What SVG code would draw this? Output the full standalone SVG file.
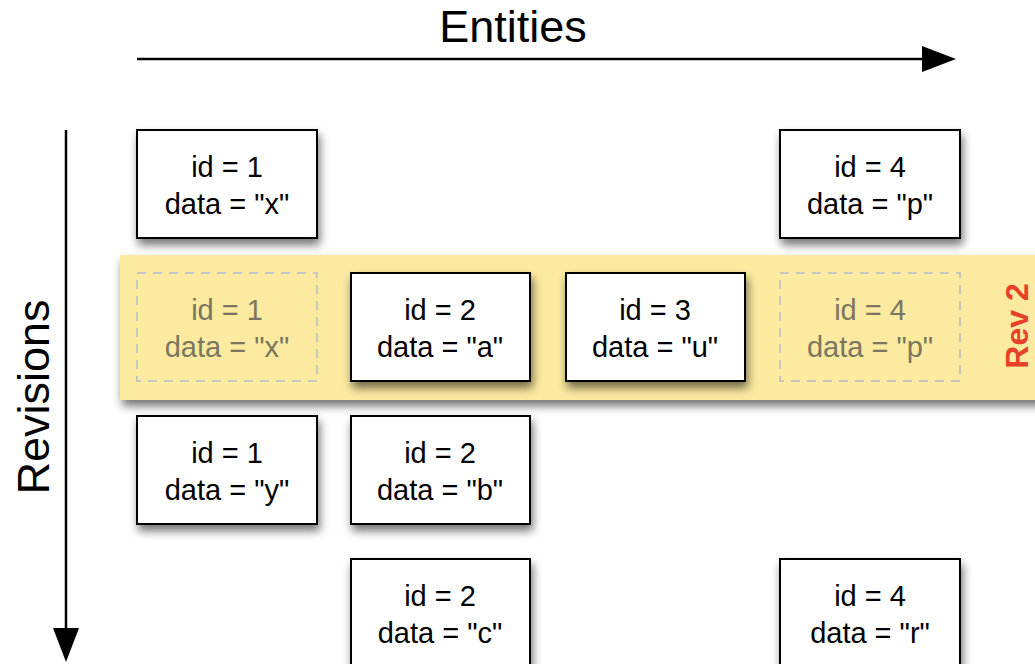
<svg xmlns="http://www.w3.org/2000/svg" width="1035" height="664" viewBox="0 0 1035 664">
<defs>
<style>
.box{fill:#fff;stroke:#000;stroke-width:2}
.ghost{fill:none;stroke:#c9c6bf;stroke-width:2;stroke-dasharray:9 7}
.t{font-family:"Liberation Sans",Arial,sans-serif;font-size:29px;text-anchor:middle;fill:#000}
.g{fill:#7b765f}
.ax{stroke:#000;stroke-width:2.5;fill:none}
.lbl{font-family:"Liberation Sans",Arial,sans-serif;font-size:45px;text-anchor:middle;fill:#000}
</style>
<filter id="sh" x="-20%" y="-20%" width="150%" height="160%">
<feGaussianBlur in="SourceAlpha" stdDeviation="5"/>
<feOffset dx="2" dy="6" result="b"/>
<feComponentTransfer><feFuncA type="linear" slope="0.55"/></feComponentTransfer>
<feMerge><feMergeNode/><feMergeNode in="SourceGraphic"/></feMerge>
</filter>
<marker id="ah" markerUnits="userSpaceOnUse" markerWidth="34" markerHeight="26" refX="2" refY="13" orient="auto">
<path d="M0,0 L34,13 L0,26 Z" fill="#000"/>
</marker>
</defs>

<g id="band">
<rect x="120" y="255" width="930" height="145" fill="#fbeaa0" filter="url(#sh)"/>
<text x="1028" y="326" transform="rotate(-90 1028 326)" font-family="Liberation Sans,Arial,sans-serif" font-size="32" font-weight="bold" fill="#e8412a" text-anchor="middle">Rev 2</text>
</g>

<g id="connectors">
<line class="ax" x1="137" y1="59" x2="924" y2="59" marker-end="url(#ah)"/>
<line class="ax" x1="66" y1="130" x2="66" y2="630" marker-end="url(#ah)"/>
</g>

<text class="lbl" x="513" y="42">Entities</text>
<text class="lbl" x="49" y="397" transform="rotate(-90 49 397)">Revisions</text>

<g id="n1x">
<rect class="box" x="137" y="130" width="180" height="108" filter="url(#sh)"/>
<text class="t" x="227" y="177">id = 1</text><text class="t" x="227" y="214">data = "x"</text>
</g>
<g id="n4p">
<rect class="box" x="780" y="130" width="180" height="108" filter="url(#sh)"/>
<text class="t" x="870" y="177">id = 4</text><text class="t" x="870" y="214">data = "p"</text>
</g>

<g id="g1x">
<rect class="ghost" x="137" y="273" width="180" height="108"/>
<text class="t g" x="227" y="320">id = 1</text><text class="t g" x="227" y="357">data = "x"</text>
</g>
<g id="n2a">
<rect class="box" x="351" y="273" width="179" height="108" filter="url(#sh)"/>
<text class="t" x="440" y="320">id = 2</text><text class="t" x="440" y="357">data = "a"</text>
</g>
<g id="n3u">
<rect class="box" x="566" y="273" width="179" height="108" filter="url(#sh)"/>
<text class="t" x="655" y="320">id = 3</text><text class="t" x="655" y="357">data = "u"</text>
</g>
<g id="g4p">
<rect class="ghost" x="780" y="273" width="180" height="108"/>
<text class="t g" x="870" y="320">id = 4</text><text class="t g" x="870" y="357">data = "p"</text>
</g>

<g id="n1y">
<rect class="box" x="137" y="416" width="180" height="108" filter="url(#sh)"/>
<text class="t" x="227" y="463">id = 1</text><text class="t" x="227" y="500">data = "y"</text>
</g>
<g id="n2b">
<rect class="box" x="351" y="416" width="179" height="108" filter="url(#sh)"/>
<text class="t" x="440" y="463">id = 2</text><text class="t" x="440" y="500">data = "b"</text>
</g>

<g id="n2c">
<rect class="box" x="351" y="559" width="179" height="108" filter="url(#sh)"/>
<text class="t" x="440" y="606">id = 2</text><text class="t" x="440" y="643">data = "c"</text>
</g>
<g id="n4r">
<rect class="box" x="780" y="559" width="180" height="108" filter="url(#sh)"/>
<text class="t" x="870" y="606">id = 4</text><text class="t" x="870" y="643">data = "r"</text>
</g>
</svg>
